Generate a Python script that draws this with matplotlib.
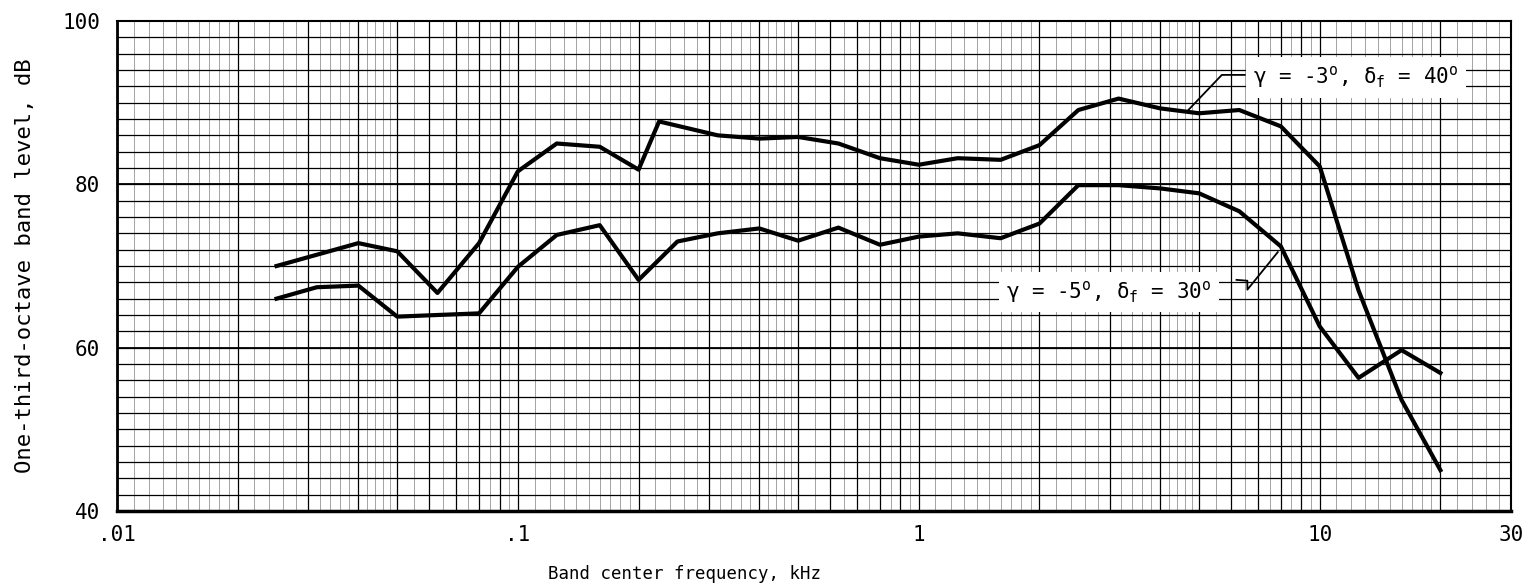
import matplotlib
matplotlib.use('Agg')
import numpy as np
import matplotlib.pyplot as plt

plt.rcParams['font.family'] = ['DejaVu Sans Mono', 'DejaVu Sans']
plt.rcParams['mathtext.fontset'] = 'custom'
plt.rcParams['mathtext.rm'] = 'DejaVu Sans Mono'
plt.rcParams['mathtext.it'] = 'DejaVu Sans Mono'

# gamma = -3 deg, delta_f = 40 deg (upper curve)
freq_a = [0.025, 0.04, 0.05, 0.063, 0.08, 0.1, 0.125, 0.16, 0.2, 0.225, 0.315, 0.4, 0.5,
          0.63, 0.8, 1.0, 1.25, 1.6, 2.0, 2.5, 3.15, 4.0, 5.0, 6.3, 8.0, 10.0, 12.5, 16.0, 20.0]
level_a = [70.0, 72.8, 71.8, 66.7, 72.8, 81.6, 85.0, 84.6, 81.8, 87.7, 86.0, 85.6, 85.8,
           85.0, 83.2, 82.4, 83.2, 83.0, 84.8, 89.1, 90.5, 89.3, 88.7, 89.1, 87.1, 82.2, 67.0, 53.6, 45.0]

# gamma = -5 deg, delta_f = 30 deg (lower curve)
freq_b = [0.025, 0.0315, 0.04, 0.05, 0.063, 0.08, 0.1, 0.125, 0.16, 0.2, 0.25, 0.315, 0.4, 0.5,
          0.63, 0.8, 1.0, 1.25, 1.6, 2.0, 2.5, 3.15, 4.0, 5.0, 6.3, 8.0, 10.0, 12.5, 16.0, 20.0]
level_b = [66.0, 67.4, 67.6, 63.8, 64.0, 64.2, 69.9, 73.8, 75.0, 68.3, 73.0, 74.0, 74.6, 73.1,
           74.7, 72.6, 73.6, 74.0, 73.4, 75.2, 79.9, 79.9, 79.5, 78.9, 76.7, 72.4, 62.6, 56.3, 59.7, 56.9]

x_ticks = [0.01, 0.1, 1, 10, 30]
x_ticklabels = ['.01', '.1', '1', '10', '30']
y_ticks = [40, 60, 80, 100]

label_a = 'γ = -3$^{\\mathrm{o}}$, δ$_{\\mathrm{f}}$ = 40$^{\\mathrm{o}}$'
label_b = 'γ = -5$^{\\mathrm{o}}$, δ$_{\\mathrm{f}}$ = 30$^{\\mathrm{o}}$'
label_a_pos = (12.3, 93.1)
label_b_pos = (2.98, 66.8)
leader_a_f = [4.66, 5.70, 6.5]
leader_a_db = [88.9, 93.4, 93.4]
leader_b_f = [6.2, 6.6, 6.6, 7.86]
leader_b_db = [68.3, 68.2, 67.1, 71.7]

fig = plt.figure(figsize=(15.34, 5.87), dpi=100)
ax = fig.add_axes([117/1534, 76/587, (1511-117)/1534, 490/587])
ax.set_xscale('log')
ax.set_xlim(0.01, 30)
ax.set_ylim(40, 100)

# graph paper
main_lines = []
fine_lines = []
for d in [0.01, 0.1, 1, 10]:
    for m in range(1, 10):
        if d*m <= 30:
            main_lines.append(d*m)
    for m in list(np.arange(1.1, 2.0, 0.1)) + list(np.arange(2.2, 5.0, 0.2)) + list(np.arange(5.5, 10, 0.5)):
        if d*m <= 30:
            fine_lines.append(d*m)
ax.vlines(fine_lines, 40, 100, color='0.5', lw=0.5, zorder=1)
ax.vlines(main_lines, 40, 100, color='black', lw=0.9, zorder=1)
ax.hlines(np.arange(42, 100, 2), 0.01, 30, color='black', lw=0.9, zorder=1)
ax.hlines([60, 80], 0.01, 30, color='black', lw=1.3, zorder=1)

ax.plot(freq_a, level_a, color='black', lw=3, zorder=3)
ax.plot(freq_b, level_b, color='black', lw=3, zorder=3)

ax.plot(leader_a_f, leader_a_db, color='black', lw=1.3, zorder=3)
ax.plot(leader_b_f, leader_b_db, color='black', lw=1.3, zorder=3)
box = dict(boxstyle='square,pad=0.35', facecolor='white', edgecolor='none')
ax.text(*label_a_pos, label_a, fontsize=15, ha='center', va='center', bbox=box, zorder=4)
ax.text(*label_b_pos, label_b, fontsize=15, ha='center', va='center', bbox=box, zorder=4)

ax.set_xticks(x_ticks)
ax.set_xticklabels(x_ticklabels)
ax.set_xticks([], minor=True)
ax.set_yticks(y_ticks)
ax.tick_params(length=0, labelsize=15)
ax.tick_params(axis='x', pad=10)
ax.tick_params(axis='y', pad=12)

for s in ax.spines.values():
    s.set_linewidth(1.5)
ax.spines['bottom'].set_linewidth(2.5)
ax.spines['left'].set_linewidth(2)

ax.set_xlabel('Band center frequency, kHz', fontsize=12.5)
ax.xaxis.set_label_coords((685-117)/1394, -0.11)
ax.set_ylabel('One-third-octave band level, dB', fontsize=16, labelpad=20)

fig.savefig('out.png', dpi=100)
